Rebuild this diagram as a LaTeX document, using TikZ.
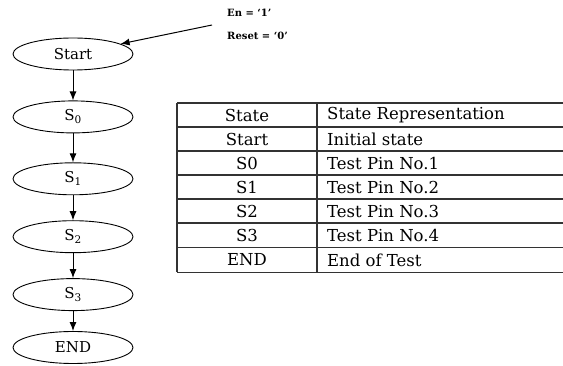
\documentclass[tikz,border=0pt]{standalone}
\usepackage{fontspec}
\setmainfont{DejaVu Serif}
\usetikzlibrary{positioning,arrows.meta,shapes.geometric}

\tikzset{
  state/.style={draw,ellipse,line width=0.9pt,minimum width=120pt,minimum height=32pt,inner sep=0pt,font=\fontsize{15}{17}\selectfont},
  flow/.style={-{Latex[length=9pt,width=7pt]},line width=1pt},
  cell/.style={inner sep=0pt,font=\fontsize{16.5}{19}\selectfont},
  cond/.style={inner sep=0pt,anchor=west,font=\bfseries\fontsize{10}{12}\selectfont},
}

\begin{document}
\begin{tikzpicture}[x=1pt,y=-1pt]
\useasboundingbox (0,0) rectangle (563,366);
% states
\node[state] (start) at (73,54) {Start};
\node[state,below=30pt of start] (s0) {S\textsubscript{0}};
\node[state,below=29pt of s0] (s1) {S\textsubscript{1}};
\node[state,below=25pt of s1] (s2) {S\textsubscript{2}};
\node[state,below=25pt of s2] (s3) {S\textsubscript{3}};
\node[state,below=20pt of s3] (fin) {END};
\draw[flow] (start) -- (s0);
\draw[flow] (s0) -- (s1);
\draw[flow] (s1) -- (s2);
\draw[flow] (s2) -- (s3);
\draw[flow] (s3) -- (fin);
% entry condition
\node[cond] (en) at (227,13) {En = ‘1’};
\node[cond] (reset) at (227,36) {Reset = ‘0’};
\coordinate (entry) at (212,25);
\draw[flow] (entry) -- (start.12);
% table
\draw[line width=1.3pt,black!80]
  (177,103) -- (563,103)
  (177,127) -- (563,127)
  (177,151) -- (563,151)
  (177,175) -- (563,175)
  (177,199) -- (563,199)
  (177,223) -- (563,223)
  (177,247.5) -- (563,247.5)
  (177,272.5) -- (563,272.5)
  (177,103) -- (177,272.5)
  (317,103) -- (317,272.5);
\node[cell] (hstate) at (247,115) {State};
\node[cell,anchor=west] (hrep) at (327,115) {State Representation};
\node[cell] (cstart) at (247,139) {Start};
\node[cell,anchor=west] (rstart) at (327,139) {Initial state};
\node[cell] (cs0) at (247,163) {S0};
\node[cell,anchor=west] (rs0) at (327,163) {Test Pin No.1};
\node[cell] (cs1) at (247,187) {S1};
\node[cell,anchor=west] (rs1) at (327,187) {Test Pin No.2};
\node[cell] (cs2) at (247,211) {S2};
\node[cell,anchor=west] (rs2) at (327,211) {Test Pin No.3};
\node[cell] (cs3) at (247,235) {S3};
\node[cell,anchor=west] (rs3) at (327,235) {Test Pin No.4};
\node[cell] (cend) at (247,260) {END};
\node[cell,anchor=west] (rend) at (327,260) {End of Test};
\end{tikzpicture}
\end{document}
